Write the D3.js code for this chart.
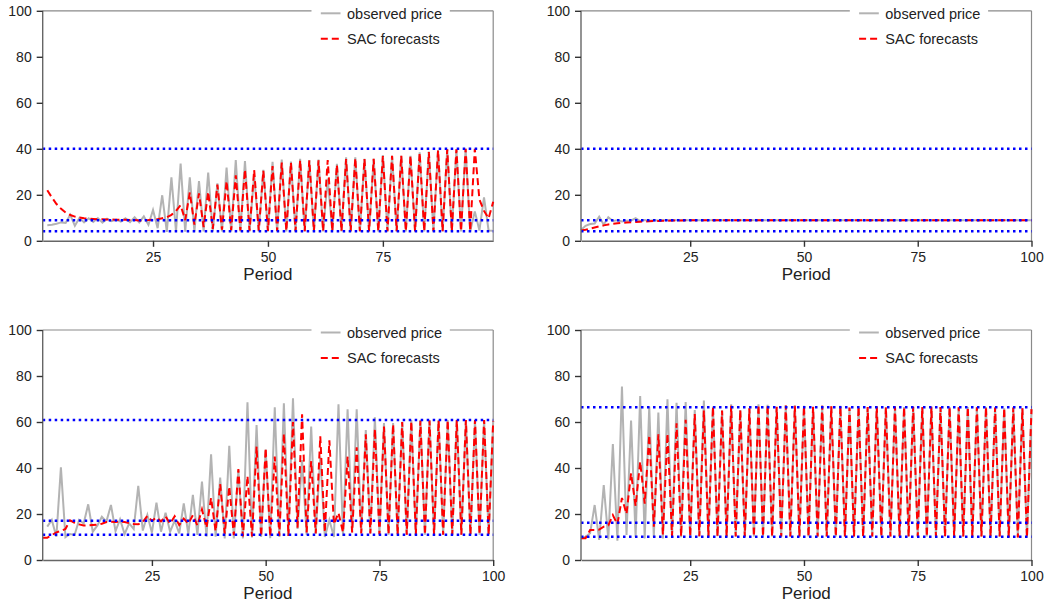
<!DOCTYPE html>
<html>
<head>
<meta charset="utf-8">
<script src="https://cdnjs.cloudflare.com/ajax/libs/d3/7.8.5/d3.min.js"></script>
<style>
  body { margin: 0; background: #fff; }
  text { font-family: "Liberation Sans", Arial, sans-serif; fill: #222; }
</style>
</head>
<body>
<script>

// observed price and SAC forecasts, one value per period (period 1 first)
let p1Price = [null, 6.8, 7.0, 7.4, 8.0, 7.8, 11.3, 6.5, 10.0, 8.0,
  9.8, 8.2, 9.9, 7.9, 9.6, 8.5, 9.2, 8.3, 9.8, 8.1,
  10.2, 8.0, 10.6, 7.0, 13.4, 5.5, 19.8, 3.9, 27.6, 4.0,
  33.6, 4.0, 27.6, 4.1, 26.0, 4.1, 29.7, 4.1, 25.0, 4.1,
  31.8, 4.1, 35.1, 4.1, 34.7, 4.1, 28.5, 4.1, 30.9, 4.1,
  34.3, 4.1, 35.3, 4.1, 34.5, 4.1, 35.7, 4.1, 35.1, 4.1,
  35.3, 4.1, 27.0, 4.2, 33.5, 4.1, 36.3, 4.1, 36.3, 4.1,
  35.6, 4.1, 35.6, 4.1, 37.3, 4.1, 37.0, 4.1, 36.9, 4.1,
  37.0, 4.1, 38.5, 4.1, 38.8, 4.1, 39.5, 4.1, 39.9, 4.1,
  39.8, 4.1, 40.0, 4.1, 12.8, 4.5, 18.9, 4.5, 4.4];
let p1Fore = [null, 22.0, 18.8, 16.0, 13.9, 12.3, 11.2, 10.5, 10.1, 9.8,
  9.6, 9.5, 9.4, 9.4, 9.3, 9.3, 9.2, 9.2, 9.1, 9.0,
  9.0, 8.8, 8.9, 9.0, 9.2, 9.4, 9.8, 10.2, 11.3, 13.0,
  15.5, 9.0, 21.0, 7.0, 20.6, 6.0, 21.3, 5.2, 24.4, 4.8,
  26.0, 4.6, 28.5, 4.5, 31.0, 4.4, 30.8, 4.4, 30.5, 4.3,
  32.5, 4.3, 34.0, 4.3, 34.0, 4.2, 35.0, 4.2, 35.0, 4.2,
  35.0, 4.2, 35.1, 4.2, 33.0, 4.2, 35.5, 4.2, 36.0, 4.2,
  35.6, 4.2, 35.6, 4.2, 36.8, 4.2, 37.0, 4.2, 37.0, 4.2,
  37.0, 4.2, 38.3, 4.2, 38.6, 4.2, 39.3, 4.2, 39.8, 4.2,
  39.8, 4.2, 40.0, 4.2, 40.0, 18.0, 13.0, 9.7, 17.0];

let p2Price = [4.7, 6.5, 7.3, 7.5, 10.5, 7.0, 10.2, 8.6, 8.9, 8.4,
  8.7, 8.8, 9.8, 8.6, 9.0, 8.7, 8.9, 8.8, 8.9, 8.9,
  8.9, 8.9, 8.9, 8.9, 8.9, 8.9, 8.9, 8.9, 8.9, 8.9,
  8.9, 8.9, 8.9, 8.9, 8.9, 8.9, 8.9, 8.9, 8.9, 8.9,
  8.9, 8.9, 8.9, 8.9, 8.9, 8.9, 8.9, 8.9, 8.9, 8.9,
  8.9, 8.9, 8.9, 8.9, 8.9, 8.9, 8.9, 8.9, 8.9, 8.9,
  8.9, 8.9, 8.9, 8.9, 8.9, 8.9, 8.9, 8.9, 8.9, 8.9,
  8.9, 8.9, 8.9, 8.9, 8.9, 8.9, 8.9, 8.9, 8.9, 8.9,
  8.9, 8.9, 8.9, 8.9, 8.9, 8.9, 8.9, 8.9, 8.9, 8.9,
  8.9, 8.9, 8.9, 8.9, 8.9, 8.9, 8.9, 8.9, 8.9, 8.9];
let p2Fore = [4.5, 4.8, 5.3, 5.8, 6.3, 6.7, 7.1, 7.4, 7.6, 7.8,
  8.0, 8.1, 8.2, 8.3, 8.4, 8.5, 8.6, 8.6, 8.7, 8.7,
  8.8, 8.8, 8.8, 8.9, 8.9, 8.9, 8.9, 8.9, 8.9, 8.9,
  8.9, 8.9, 8.9, 8.9, 8.9, 8.9, 8.9, 8.9, 8.9, 8.9,
  8.9, 8.9, 8.9, 8.9, 8.9, 8.9, 8.9, 8.9, 8.9, 8.9,
  8.9, 8.9, 8.9, 8.9, 8.9, 8.9, 8.9, 8.9, 8.9, 8.9,
  8.9, 8.9, 8.9, 8.9, 8.9, 8.9, 8.9, 8.9, 8.9, 8.9,
  8.9, 8.9, 8.9, 8.9, 8.9, 8.9, 8.9, 8.9, 8.9, 8.9,
  8.9, 8.9, 8.9, 8.9, 8.9, 8.9, 8.9, 8.9, 8.9, 8.9,
  8.9, 8.9, 8.9, 8.9, 8.9, 8.9, 8.9, 8.9, 8.9, 8.9];

let p3Price = [null, 14.5, 17.4, 10.1, 40.3, 9.9, 11.3, 10.9, 17.4, 15.9,
  24.2, 12.3, 14.9, 18.8, 16.7, 23.9, 12.6, 17.7, 11.3, 15.9,
  13.5, 32.2, 12.8, 19.6, 11.9, 24.9, 12.3, 20.6, 12.3, 17.1,
  11.6, 24.6, 11.3, 28.3, 10.9, 34.1, 10.1, 45.9, 10.1, 35.8,
  9.4, 49.6, 9.4, 39.0, 9.4, 68.6, 9.8, 58.7, 10.0, 48.0,
  9.5, 66.4, 10.0, 68.1, 10.5, 70.3, 13.5, 43.5, 11.0, 58.0,
  11.5, 45.0, 10.0, 17.4, 10.0, 67.7, 10.5, 65.5, 12.0, 65.5,
  12.3, 56.5, 11.5, 62.0, 11.0, 59.5, 11.0, 59.5, 11.0, 60.1,
  11.0, 60.9, 11.0, 60.9, 11.0, 60.9, 11.0, 60.9, 11.0, 60.9,
  11.0, 60.9, 11.0, 60.9, 11.0, 60.9, 11.0, 60.9, 11.0, 60.5];
let p3Fore = [9.7, 9.7, 10.8, 12.0, 12.6, 13.5, 17.2, 16.2, 15.5, 15.0,
  15.0, 15.2, 15.4, 15.8, 16.5, 16.6, 16.5, 16.8, 16.5, 16.0,
  15.7, 15.5, 16.5, 19.2, 17.0, 18.5, 16.8, 19.0, 15.8, 19.0,
  15.2, 18.0, 15.8, 19.5, 15.0, 22.0, 14.0, 27.0, 12.5, 33.0,
  11.5, 32.0, 10.8, 39.5, 10.3, 36.5, 10.2, 49.3, 10.2, 48.6,
  10.2, 45.0, 10.5, 55.0, 10.5, 60.0, 14.0, 63.3, 12.0, 43.0,
  11.5, 53.8, 12.0, 52.0, 15.5, 20.5, 12.0, 45.0, 12.0, 49.0,
  11.5, 54.6, 11.5, 57.0, 11.2, 58.0, 11.2, 59.0, 11.0, 60.0,
  11.0, 60.3, 11.0, 60.5, 11.0, 60.6, 11.0, 60.7, 11.0, 60.8,
  11.0, 60.8, 11.0, 60.9, 11.0, 60.9, 11.0, 60.9, 11.0, 60.5];

let p4Price = [9.4, 10.1, 11.6, 23.9, 8.7, 32.6, 9.0, 50.4, 8.4, 75.4,
  10.9, 60.6, 10.1, 71.3, 9.4, 66.7, 9.9, 64.1, 9.4, 69.9,
  10.1, 68.4, 9.9, 68.7, 9.6, 65.2, 10.2, 69.3, 10.3, 66.7,
  10.3, 65.0, 10.3, 67.7, 10.2, 65.2, 10.2, 66.0, 10.2, 67.7,
  10.2, 67.5, 10.2, 66.5, 10.2, 67.3, 10.2, 67.2, 10.2, 67.0,
  10.2, 66.5, 10.2, 67.2, 10.2, 66.8, 10.2, 67.0, 10.2, 66.2,
  10.2, 66.8, 10.2, 66.5, 10.2, 66.8, 10.2, 66.4, 10.2, 66.8,
  10.2, 66.5, 10.2, 66.6, 10.2, 66.5, 10.2, 66.6, 10.2, 66.5,
  10.2, 66.5, 10.2, 66.4, 10.2, 66.5, 10.2, 66.4, 10.2, 66.5,
  10.2, 66.3, 10.2, 66.0, 9.8, 66.3, 9.8, 66.0, 9.8, 65.5];
let p4Fore = [9.5, 9.5, 13.0, 13.0, 13.2, 14.5, 15.0, 19.5, 15.5, 27.0,
  20.0, 37.7, 23.5, 42.8, 24.5, 54.3, 14.5, 54.6, 11.0, 55.0,
  10.5, 59.4, 10.3, 61.0, 10.3, 63.5, 10.3, 65.0, 10.2, 66.7,
  10.2, 65.0, 10.2, 67.0, 10.2, 65.3, 10.2, 66.0, 10.2, 67.5,
  10.2, 67.4, 10.2, 66.6, 10.2, 67.2, 10.2, 67.1, 10.2, 67.0,
  10.2, 66.6, 10.2, 67.1, 10.2, 66.8, 10.2, 66.9, 10.2, 66.3,
  10.2, 66.7, 10.2, 66.5, 10.2, 66.7, 10.2, 66.5, 10.2, 66.7,
  10.2, 66.5, 10.2, 66.6, 10.2, 66.5, 10.2, 66.6, 10.2, 66.5,
  10.2, 66.5, 10.2, 66.4, 10.2, 66.5, 10.2, 66.4, 10.2, 66.5,
  10.2, 66.3, 10.2, 66.1, 9.8, 66.3, 9.8, 66.0, 9.8, 65.6];

// blue dotted reference levels (fixed point and 2-cycle)
let p1Levels = [40.0, 8.9, 4.1];
let p2Levels = [40.0, 8.9, 4.1];
let p3Levels = [60.9, 17.1, 11.0];
let p4Levels = [66.4, 16.2, 10.1];

let yTicks = [0, 20, 40, 60, 80, 100];
let xTicks = [25, 50, 75, 100];
let legendLabels = ["observed price", "SAC forecasts"];

let width = 1047, height = 606;
let plotW = 450.5, plotH = 230;

let svg = d3.select("body").append("svg")
  .attr("width", width)
  .attr("height", height);

function drawPanel(left, top, lastPeriod, price, fore, levels) {
  let g = svg.append("g").attr("transform", "translate(" + left + "," + top + ")");

  let x = d3.scaleLinear().domain([1, lastPeriod]).range([0, plotW]);
  let y = d3.scaleLinear().domain([0, 100]).range([plotH, 0]);

  // box: top and right in lighter grey
  g.append("line").attr("x1", 0).attr("x2", plotW).attr("y1", 0).attr("y2", 0)
    .style("stroke", "#8a8a8a").style("stroke-width", 1.2);
  g.append("line").attr("x1", plotW).attr("x2", plotW).attr("y1", 0).attr("y2", plotH)
    .style("stroke", "#8a8a8a").style("stroke-width", 1.2);

  let line = d3.line()
    .defined(d => d != null)
    .x((d, i) => x(i + 1))
    .y(d => y(d));

  g.append("path").datum(price)
    .attr("d", line)
    .style("fill", "none")
    .style("stroke", "#b3b3b3")
    .style("stroke-width", 2);

  g.append("path").datum(fore)
    .attr("d", line)
    .style("fill", "none")
    .style("stroke", "#ff0000")
    .style("stroke-width", 2)
    .style("stroke-dasharray", "7,4");

  for (let i = 0; i < levels.length; i++) {
    g.append("line")
      .attr("x1", 0).attr("x2", plotW)
      .attr("y1", y(levels[i])).attr("y2", y(levels[i]))
      .style("stroke", "#0000ff")
      .style("stroke-width", 2.5)
      .style("stroke-dasharray", "2.5,3.5");
  }

  let yAxis = g.append("g")
    .call(d3.axisLeft(y).tickValues(yTicks).tickSize(6).tickPadding(5));
  let xAxis = g.append("g")
    .attr("transform", "translate(0," + plotH + ")")
    .call(d3.axisBottom(x).tickValues(xTicks.filter(t => t <= lastPeriod)).tickSize(6).tickPadding(5).tickSizeOuter(0));
  [yAxis, xAxis].forEach(a => {
    a.select(".domain").style("stroke", "#666").style("stroke-width", 1.4);
    a.selectAll(".tick line").style("stroke", "#333").style("stroke-width", 1.4);
    a.selectAll("text").style("font-size", "14px").style("fill", "#222");
  });
  yAxis.select(".domain").attr("d", "M0," + plotH + "V0");

  g.append("text")
    .attr("x", plotW / 2)
    .attr("y", plotH + 39)
    .attr("text-anchor", "middle")
    .style("font-size", "17px")
    .text("Period");

  // legend with white background over the top border
  let lg = g.append("g").attr("transform", "translate(" + (plotW - 181.7) + ",0)");
  lg.append("rect")
    .attr("x", 0).attr("y", -8)
    .attr("width", 138.3).attr("height", 50)
    .style("fill", "#fff");
  let styles = [
    { color: "#b3b3b3", dash: null },
    { color: "#ff0000", dash: "7,4" }
  ];
  for (let i = 0; i < legendLabels.length; i++) {
    let ly = 2.5 + i * 25.5;
    lg.append("line")
      .attr("x1", 9.3).attr("x2", 29)
      .attr("y1", ly).attr("y2", ly)
      .style("stroke", styles[i].color)
      .style("stroke-width", 2)
      .style("stroke-dasharray", styles[i].dash);
    lg.append("text")
      .attr("x", 35.5).attr("y", ly)
      .attr("dy", "0.36em")
      .style("font-size", "14.5px")
      .text(legendLabels[i]);
  }
}

drawPanel(42.7, 10.8, 99, p1Price, p1Fore, p1Levels);
drawPanel(581, 10.8, 100, p2Price, p2Fore, p2Levels);
drawPanel(42.7, 330, 100, p3Price, p3Fore, p3Levels);
drawPanel(581, 330, 100, p4Price, p4Fore, p4Levels);

</script>
</body>
</html>
